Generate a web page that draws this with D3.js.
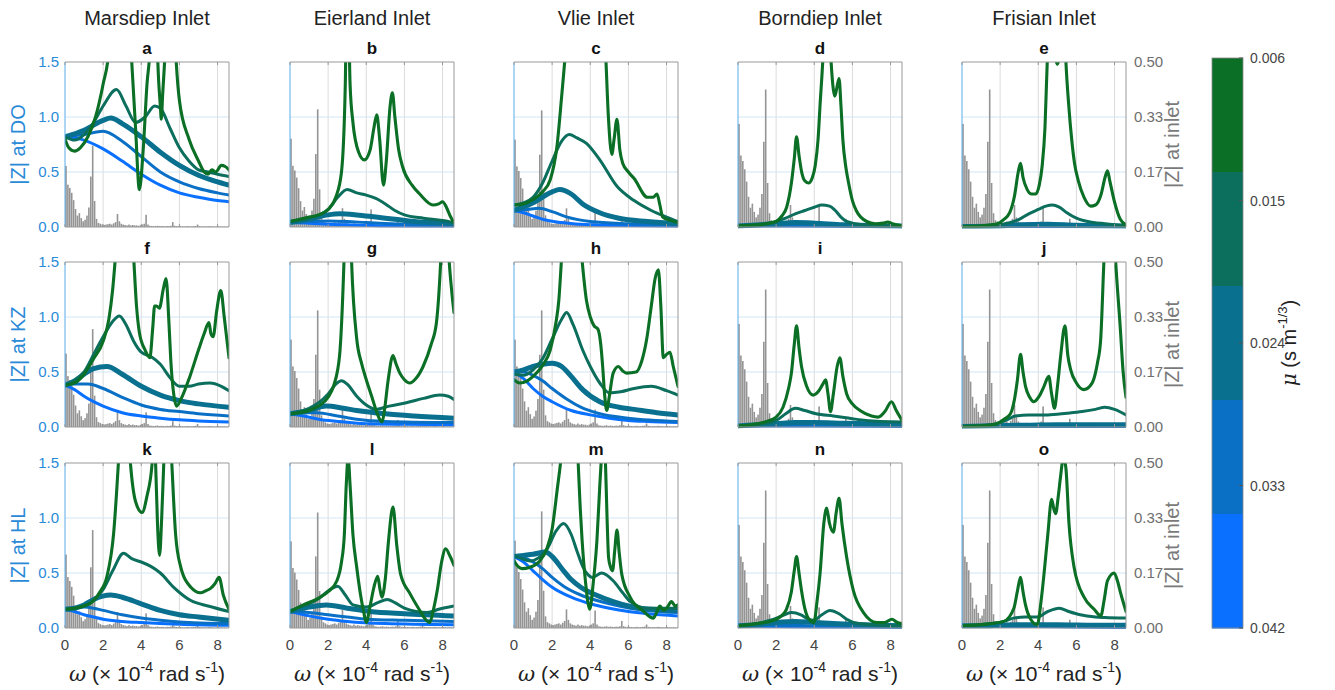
<!DOCTYPE html>
<html><head><meta charset="utf-8">
<script src="https://cdn.jsdelivr.net/npm/d3@7"></script>
<style>
html,body{margin:0;padding:0;background:#fff;}
svg{font-family:"Liberation Sans",Arial,Helvetica,sans-serif;}
</style></head>
<body><svg id="chart" width="1335" height="690"></svg>
<script>
// ---------------- DATA ----------------
const inlets = ["Marsdiep Inlet","Eierland Inlet","Vlie Inlet","Borndiep Inlet","Frisian Inlet"];
const stations = ["DO","KZ","HL"];
const panelLetters = ["a","b","c","d","e","f","g","h","i","j","k","l","m","n","o"];
const xTicks = [0,2,4,6,8];
const leftTicks = [0,0.5,1.0,1.5];
const leftTickLabels = ["0.0","0.5","1.0","1.5"];
const rightTicks = [0,0.5/3,1/3,0.5];
const rightTickLabels = ["0.00","0.17","0.33","0.50"];
const muValues = [0.006,0.015,0.024,0.033,0.042];
const muTickLabels = ["0.006","0.015","0.024","0.033","0.042"];

// tidal spectrum (normalised to M2 peak), omega step 0.1
const spectrumAmp = [0.75,0.52,0.48,0.42,0.33,0.22,0.14,0.17,0.11,0.07,
 0.09,0.14,0.24,0.62,1.0,0.32,0.1,0.05,0.04,0.03,
 0.025,0.03,0.035,0.04,0.03,0.045,0.06,0.16,0.07,0.04,
 0.03,0.025,0.02,0.03,0.02,0.025,0.02,0.02,0.015,0.02,
 0.03,0.04,0.15,0.03,0.015,0.012,0.01,0.012,0.015,0.01,
 0.012,0.01,0.008,0.012,0.01,0.015,0.06,0.015,0.01,0.008,
 0.01,0.008,0.006,0.008,0.01,0.006,0.008,0.01,0.012,0.03,
 0.01,0.008,0.006,0.008,0.006,0.01,0.008,0.006,0.005,0.006,
 0.008,0.006,0.005,0.006,0.005,0.004,0.005];
// displayed height of the M2 spectral peak in each panel (left-axis units)
const spectrumPeakRow1 = [0.74,1.07,1.06,1.25,1.25];
const spectrumPeakRow2 = [0.89,1.06,1.06,1.25,1.25];
const spectrumPeakRow3 = [0.89,1.05,1.06,1.25,1.25];

// |Z| curves [omega, value], value in left-axis display units (0-1.5), ordered mu = 0.006 ... 0.042
const panelA = [
 [[0,0.8],[0.2,0.72],[0.5,0.69],[0.8,0.72],[1.2,0.82],[1.6,1.0],[2.0,1.3],[2.3,1.6],[2.6,2.5],[3.2,2.5],[3.5,1.5],[3.7,0.9],[3.9,0.34],[4.1,0.7],[4.3,1.3],[4.45,1.6],[4.7,3],[4.85,1.6],[5.0,1.1],[5.05,0.98],[5.12,1.2],[5.25,1.6],[5.5,3],[5.8,1.6],[6.0,1.15],[6.5,0.8],[7.0,0.6],[7.3,0.5],[7.5,0.48],[7.7,0.52],[7.9,0.5],[8.2,0.56],[8.4,0.55],[8.6,0.52]],
 [[0,0.82],[0.5,0.79],[1,0.84],[1.5,0.95],[2,1.1],[2.7,1.25],[3.2,1.1],[3.7,0.95],[4.2,1.0],[4.7,1.1],[5.0,1.08],[5.5,0.9],[6,0.72],[6.5,0.6],[7,0.52],[7.5,0.5],[8,0.48],[8.6,0.46]],
 [[0,0.82],[1,0.88],[2,0.97],[2.4,0.99],[3,0.94],[4,0.82],[5,0.68],[6,0.56],[7,0.47],[8,0.41],[8.6,0.38]],
 [[0,0.82],[1,0.84],[2,0.87],[3,0.78],[4,0.64],[5,0.5],[6,0.41],[7,0.35],[8,0.31],[8.6,0.29]],
 [[0,0.82],[1,0.79],[2,0.71],[3,0.6],[4,0.48],[5,0.38],[6,0.31],[7,0.27],[8,0.24],[8.6,0.23]]
];
const panelB = [
 [[0,0.05],[1,0.09],[1.5,0.11],[2,0.16],[2.4,0.27],[2.7,0.5],[2.9,1.3],[3.0,2.5],[3.15,1.3],[3.3,0.95],[3.6,0.68],[3.9,0.61],[4.2,0.7],[4.4,0.9],[4.55,1.02],[4.7,0.8],[4.9,0.38],[5.05,0.6],[5.25,1.1],[5.37,1.22],[5.5,1.0],[5.7,0.7],[5.9,0.55],[6.4,0.38],[6.8,0.3],[7.5,0.2],[7.8,0.21],[8.0,0.23],[8.2,0.18],[8.4,0.1],[8.6,0.04]],
 [[0,0.05],[1,0.08],[2,0.16],[2.5,0.27],[3,0.34],[3.5,0.31],[4,0.29],[4.5,0.26],[5,0.21],[5.5,0.15],[6,0.11],[7,0.08],[8,0.06],[8.6,0.04]],
 [[0,0.04],[1,0.07],[2,0.11],[2.6,0.12],[3.5,0.11],[4.5,0.09],[5.5,0.07],[6.5,0.05],[7.5,0.04],[8.6,0.03]],
 [[0,0.04],[1,0.05],[2,0.055],[3,0.05],[4,0.04],[6,0.025],[8.6,0.015]],
 [[0,0.04],[1,0.035],[2,0.025],[3,0.02],[5,0.012],[8.6,0.008]]
];
const panelC = [
 [[0,0.2],[0.5,0.21],[1,0.25],[1.5,0.32],[1.9,0.43],[2.25,0.73],[2.5,1.19],[2.7,1.6],[3,2.5],[4.5,2.5],[4.8,1.6],[4.95,1.0],[5.13,0.66],[5.25,0.8],[5.4,0.98],[5.55,0.7],[5.7,0.58],[6.0,0.5],[6.3,0.44],[7.0,0.27],[7.3,0.27],[7.5,0.3],[7.65,0.2],[7.8,0.09],[8.2,0.06],[8.6,0.04]],
 [[0,0.2],[0.5,0.22],[1,0.27],[1.5,0.4],[2,0.6],[2.5,0.78],[2.9,0.84],[3.3,0.81],[3.8,0.76],[4.5,0.61],[5.4,0.37],[6.3,0.24],[7.2,0.15],[8,0.09],[8.6,0.05]],
 [[0,0.15],[1,0.22],[2,0.32],[2.4,0.34],[3,0.3],[3.6,0.21],[4.5,0.13],[5.5,0.08],[7,0.05],[8.6,0.03]],
 [[0,0.15],[0.7,0.16],[1.3,0.17],[2,0.14],[2.8,0.09],[4,0.05],[6,0.03],[8.6,0.02]],
 [[0,0.15],[0.5,0.13],[1,0.1],[1.5,0.07],[2.5,0.04],[4,0.02],[8.6,0.01]]
];
const panelD = [
 [[0,0.01],[1,0.02],[1.5,0.03],[2,0.05],[2.3,0.1],[2.55,0.18],[2.8,0.4],[2.95,0.62],[3.07,0.82],[3.2,0.65],[3.35,0.49],[3.5,0.42],[3.7,0.4],[3.9,0.45],[4.05,0.56],[4.2,0.8],[4.3,1.1],[4.47,1.6],[4.65,2.5],[4.85,1.6],[5.0,1.25],[5.08,1.19],[5.2,1.28],[5.3,1.35],[5.4,1.1],[5.5,0.79],[5.65,0.55],[5.8,0.4],[6.0,0.24],[6.2,0.15],[6.75,0.05],[7.2,0.03],[7.6,0.035],[7.85,0.045],[8.1,0.03],[8.6,0.01]],
 [[0,0.01],[1,0.02],[2,0.05],[2.5,0.08],[3,0.12],[3.5,0.15],[4,0.18],[4.4,0.2],[4.8,0.19],[5.1,0.15],[5.4,0.09],[5.7,0.05],[6.5,0.02],[8.6,0.01]],
 [[0,0.01],[2,0.03],[3,0.04],[4,0.035],[5.5,0.02],[8.6,0.01]],
 [[0,0.01],[3,0.015],[8.6,0.005]],
 [[0,0.01],[3,0.01],[8.6,0.003]]
];
const panelE = [
 [[0,0.005],[1,0.01],[1.5,0.02],[1.85,0.03],[2.2,0.07],[2.5,0.13],[2.75,0.28],[2.95,0.5],[3.07,0.58],[3.2,0.45],[3.42,0.34],[3.65,0.3],[3.86,0.3],[4.05,0.38],[4.2,0.55],[4.35,0.9],[4.47,1.5],[4.7,2.2],[4.9,1.55],[5.0,1.48],[5.1,1.55],[5.3,2.2],[5.45,1.5],[5.6,1.1],[5.75,0.8],[5.9,0.58],[6.1,0.42],[6.4,0.27],[6.75,0.19],[7.0,0.2],[7.3,0.3],[7.5,0.45],[7.63,0.51],[7.75,0.42],[7.98,0.24],[8.3,0.07],[8.6,0.02]],
 [[0,0.005],[1.5,0.01],[2.5,0.04],[3,0.07],[3.5,0.12],[4,0.16],[4.4,0.19],[4.74,0.2],[5.1,0.18],[5.5,0.13],[6,0.08],[6.9,0.04],[7.5,0.03],[8.6,0.01]],
 [[0,0.005],[2,0.01],[3,0.02],[4.5,0.025],[6,0.015],[8.6,0.01]],
 [[0,0.005],[3,0.01],[8.6,0.005]],
 [[0,0.005],[8.6,0.003]]
];
const panelF = [
 [[0,0.38],[0.5,0.4],[1,0.48],[1.5,0.62],[2,0.78],[2.3,0.98],[2.5,1.25],[2.67,1.6],[3.1,2.5],[3.58,1.6],[3.75,1.1],[3.9,0.86],[4.2,0.7],[4.45,0.63],[4.6,0.9],[4.7,1.1],[4.8,1.1],[4.95,1.08],[5.15,1.25],[5.3,1.35],[5.45,0.95],[5.55,0.6],[5.7,0.3],[5.85,0.19],[6.1,0.26],[6.55,0.46],[7.0,0.7],[7.3,0.85],[7.55,0.95],[7.65,0.85],[7.77,0.82],[7.95,1.05],[8.17,1.24],[8.35,1.0],[8.6,0.63]],
 [[0,0.38],[0.5,0.42],[1,0.5],[1.5,0.66],[2,0.82],[2.5,0.96],[2.85,1.01],[3.2,0.93],[3.6,0.78],[4.0,0.68],[4.5,0.64],[5.0,0.57],[5.5,0.45],[6.0,0.37],[6.5,0.37],[7.0,0.39],[7.6,0.4],[8.2,0.37],[8.6,0.33]],
 [[0,0.38],[0.5,0.42],[1,0.48],[1.5,0.53],[2.2,0.55],[3,0.48],[4,0.37],[5,0.29],[6,0.24],[7,0.21],[8.6,0.18]],
 [[0,0.38],[0.5,0.39],[1.2,0.39],[2,0.35],[3,0.27],[4,0.2],[5,0.16],[6,0.14],[7,0.12],[8.6,0.1]],
 [[0,0.38],[0.5,0.34],[1,0.28],[1.5,0.23],[2,0.19],[3,0.13],[4,0.1],[5,0.08],[6,0.065],[7,0.055],[8.6,0.045]]
];
const panelG = [
 [[0,0.12],[0.5,0.13],[1,0.15],[1.5,0.19],[2,0.27],[2.3,0.38],[2.6,0.65],[2.83,1.5],[3.03,2.8],[3.23,1.5],[3.5,0.8],[3.75,0.58],[4.0,0.43],[4.3,0.27],[4.5,0.16],[4.7,0.07],[4.83,0.045],[4.95,0.15],[5.15,0.43],[5.4,0.65],[5.55,0.58],[5.76,0.49],[6.0,0.43],[6.28,0.4],[6.6,0.44],[6.98,0.55],[7.4,0.75],[7.68,0.95],[7.9,1.5],[8.1,2.4],[8.35,1.5],[8.5,1.2],[8.6,1.04]],
 [[0,0.12],[0.5,0.14],[1,0.17],[1.5,0.22],[2,0.3],[2.4,0.39],[2.7,0.42],[3.0,0.39],[3.5,0.28],[4.0,0.2],[4.5,0.16],[5.2,0.19],[6.1,0.22],[7,0.26],[7.85,0.29],[8.3,0.28],[8.6,0.25]],
 [[0,0.12],[1,0.15],[1.9,0.19],[2.8,0.17],[3.5,0.15],[5,0.12],[6.5,0.1],[8.6,0.08]],
 [[0,0.12],[0.7,0.13],[1.4,0.13],[2.5,0.1],[3.5,0.07],[5,0.05],[8.6,0.04]],
 [[0,0.12],[0.7,0.1],[1.5,0.07],[2.5,0.05],[4,0.03],[6,0.025],[8.6,0.02]]
];
const panelH = [
 [[0,0.43],[0.3,0.4],[0.7,0.42],[1.0,0.46],[1.5,0.56],[1.9,0.7],[2.2,0.95],[2.35,1.15],[2.5,1.55],[3.0,2.8],[3.55,1.55],[3.8,1.15],[4.0,1.0],[4.2,0.92],[4.4,0.89],[4.55,0.75],[4.65,0.55],[4.75,0.3],[4.86,0.15],[5.0,0.28],[5.2,0.49],[5.47,0.55],[5.7,0.51],[5.9,0.49],[6.4,0.5],[6.7,0.6],[6.95,0.79],[7.2,1.1],[7.4,1.35],[7.57,1.43],[7.7,1.1],[7.83,0.63],[8.0,0.66],[8.18,0.68],[8.35,0.55],[8.6,0.37]],
 [[0,0.48],[0.5,0.47],[1,0.52],[1.5,0.62],[2,0.8],[2.5,0.98],[2.76,1.04],[3.1,0.93],[3.6,0.7],[4.0,0.55],[4.5,0.4],[5.0,0.31],[5.6,0.32],[6.3,0.35],[7.2,0.37],[8.0,0.33],[8.6,0.29]],
 [[0,0.5],[0.5,0.52],[1,0.55],[1.5,0.57],[2,0.58],[2.5,0.55],[3,0.46],[3.6,0.34],[4.5,0.23],[5.5,0.18],[6.3,0.16],[7.5,0.13],[8.6,0.11]],
 [[0,0.5],[0.5,0.5],[1,0.47],[1.5,0.42],[2,0.35],[2.8,0.25],[3.5,0.18],[4.5,0.12],[6,0.08],[8.6,0.05]],
 [[0,0.5],[0.5,0.44],[1,0.35],[1.5,0.28],[2,0.23],[3,0.15],[4,0.11],[5,0.08],[6,0.06],[7,0.05],[8.6,0.04]]
];
const panelI = [
 [[0,0.01],[1,0.03],[1.5,0.05],[2,0.09],[2.36,0.18],[2.65,0.35],[2.8,0.49],[2.95,0.75],[3.07,0.92],[3.2,0.72],[3.33,0.55],[3.6,0.37],[3.94,0.29],[4.2,0.32],[4.45,0.39],[4.59,0.43],[4.72,0.3],[4.85,0.14],[5.0,0.3],[5.2,0.55],[5.34,0.63],[5.5,0.46],[5.7,0.3],[6.0,0.21],[6.4,0.15],[7.0,0.1],[7.35,0.09],[7.7,0.14],[8.05,0.23],[8.3,0.15],[8.6,0.06]],
 [[0,0.01],[1,0.02],[2,0.06],[2.5,0.12],[3,0.17],[3.5,0.15],[4.1,0.12],[5,0.1],[6,0.075],[6.7,0.06],[8.6,0.045]],
 [[0,0.01],[1,0.02],[2,0.03],[3,0.04],[4,0.04],[5.5,0.035],[7,0.03],[8.6,0.025]],
 [[0,0.01],[2,0.015],[4,0.015],[8.6,0.01]],
 [[0,0.01],[4,0.008],[8.6,0.005]]
];
const panelJ = [
 [[0,0.005],[1,0.01],[1.84,0.03],[2.2,0.07],[2.54,0.12],[2.75,0.25],[2.9,0.42],[3.07,0.66],[3.2,0.5],[3.33,0.37],[3.55,0.27],[3.77,0.23],[4.05,0.28],[4.3,0.37],[4.55,0.46],[4.7,0.3],[4.85,0.17],[5.0,0.36],[5.17,0.64],[5.4,0.92],[5.55,0.65],[5.7,0.52],[6.0,0.4],[6.4,0.34],[6.7,0.37],[6.9,0.43],[7.1,0.58],[7.27,0.79],[7.44,1.5],[7.75,2.6],[8.06,1.5],[8.3,0.9],[8.45,0.5],[8.6,0.27]],
 [[0,0.005],[1.5,0.02],[2.3,0.06],[2.8,0.1],[3.5,0.11],[4.5,0.11],[5.5,0.125],[6.3,0.14],[7.0,0.16],[7.5,0.18],[8.0,0.16],[8.6,0.11]],
 [[0,0.005],[3,0.015],[5,0.02],[8.6,0.02]],
 [[0,0.005],[8.6,0.01]],
 [[0,0.005],[8.6,0.005]]
];
const panelK = [
 [[0,0.17],[0.5,0.18],[1,0.2],[1.3,0.22],[1.8,0.32],[2.2,0.47],[2.55,0.86],[2.8,1.5],[3.1,2.5],[3.43,1.5],[3.7,1.15],[4.04,1.05],[4.3,1.2],[4.57,1.5],[4.66,1.8],[4.75,1.5],[4.85,0.95],[4.96,0.66],[5.07,1.0],[5.18,1.5],[5.4,2.2],[5.6,1.5],[5.8,0.85],[6.06,0.56],[6.6,0.37],[7.1,0.32],[7.4,0.34],[7.63,0.36],[7.85,0.4],[8.08,0.46],[8.3,0.3],[8.6,0.17]],
 [[0,0.17],[0.5,0.18],[1,0.2],[1.5,0.25],[2,0.35],[2.5,0.52],[3.07,0.68],[3.5,0.63],[4,0.6],[4.5,0.56],[5,0.5],[5.7,0.37],[6.6,0.25],[7.5,0.2],[8.6,0.15]],
 [[0,0.17],[0.5,0.18],[1,0.21],[1.5,0.26],[2.4,0.3],[3,0.28],[4,0.22],[5,0.16],[6,0.12],[7,0.1],[8.6,0.07]],
 [[0,0.17],[0.5,0.18],[1,0.19],[1.5,0.18],[2,0.16],[3,0.12],[4,0.09],[5,0.07],[6,0.055],[8.6,0.04]],
 [[0,0.17],[0.5,0.15],[1,0.12],[1.5,0.1],[2,0.08],[3,0.06],[4,0.05],[6,0.035],[8.6,0.025]]
];
const panelL = [
 [[0,0.15],[0.7,0.21],[1.58,0.28],[2.0,0.33],[2.46,0.43],[2.7,0.6],[2.85,0.85],[2.95,1.3],[3.05,1.55],[3.15,1.3],[3.3,0.85],[3.5,0.55],[3.7,0.3],[3.86,0.15],[4.0,0.05],[4.2,0.2],[4.4,0.37],[4.6,0.47],[4.72,0.35],[4.82,0.28],[5.0,0.45],[5.17,0.8],[5.4,1.1],[5.6,0.75],[5.8,0.49],[6.3,0.31],[6.84,0.15],[7.1,0.08],[7.33,0.05],[7.5,0.15],[7.72,0.34],[7.95,0.6],[8.16,0.72],[8.4,0.65],[8.6,0.57]],
 [[0,0.15],[0.5,0.19],[1,0.22],[1.6,0.28],[2.1,0.35],[2.5,0.38],[2.9,0.3],[3.3,0.21],[4.0,0.19],[4.6,0.23],[5.1,0.26],[5.5,0.23],[6.0,0.18],[6.6,0.15],[7.2,0.14],[7.8,0.17],[8.6,0.2]],
 [[0,0.15],[1,0.19],[1.9,0.21],[3,0.18],[4.2,0.15],[6,0.13],[8.6,0.11]],
 [[0,0.15],[1,0.14],[2,0.12],[3,0.1],[4,0.08],[6,0.07],[8.6,0.06]],
 [[0,0.15],[0.5,0.13],[1,0.11],[2,0.08],[3,0.06],[5,0.04],[8.6,0.03]]
];
const panelM = [
 [[0,0.61],[0.2,0.56],[0.43,0.54],[0.8,0.55],[1.3,0.6],[1.74,0.73],[2.0,0.9],[2.26,1.25],[2.5,1.6],[2.9,2.6],[3.34,1.6],[3.47,1.1],[3.57,0.8],[3.75,0.42],[3.97,0.17],[4.15,0.4],[4.35,0.8],[4.5,1.3],[4.6,1.6],[4.69,1.9],[4.78,1.6],[4.88,1.0],[4.96,0.64],[5.07,0.55],[5.17,0.52],[5.28,0.7],[5.4,0.89],[5.52,0.68],[5.65,0.49],[6.09,0.28],[6.8,0.15],[7.3,0.09],[7.5,0.15],[7.65,0.2],[7.85,0.16],[8.0,0.18],[8.26,0.24],[8.45,0.2],[8.6,0.21]],
 [[0,0.66],[0.4,0.63],[0.87,0.61],[1.3,0.64],[1.74,0.72],[2.2,0.88],[2.6,0.95],[3.0,0.85],[3.3,0.7],[3.6,0.56],[3.9,0.48],[4.1,0.46],[4.6,0.5],[5.2,0.43],[5.7,0.32],[6.1,0.24],[7.0,0.18],[7.8,0.18],[8.6,0.18]],
 [[0,0.65],[0.5,0.66],[1,0.67],[1.65,0.69],[2.0,0.65],[2.6,0.52],[3.0,0.44],[3.5,0.37],[4.3,0.3],[5.2,0.24],[6.0,0.2],[6.6,0.18],[8.6,0.16]],
 [[0,0.65],[0.5,0.64],[1,0.6],[1.5,0.54],[2,0.46],[2.6,0.38],[3.5,0.3],[4.35,0.25],[5,0.22],[6.1,0.18],[7,0.16],[8.6,0.14]],
 [[0,0.65],[0.5,0.6],[1,0.52],[1.5,0.44],[2,0.37],[3,0.28],[4,0.22],[5,0.18],[6,0.15],[7,0.13],[8.6,0.11]]
];
const panelN = [
 [[0,0.02],[1,0.04],[1.67,0.06],[2.2,0.1],[2.54,0.17],[2.8,0.33],[2.95,0.52],[3.07,0.65],[3.2,0.5],[3.33,0.34],[3.5,0.18],[3.68,0.09],[3.98,0.05],[4.15,0.25],[4.3,0.49],[4.5,0.95],[4.65,1.09],[4.8,0.95],[5.0,0.87],[5.15,1.05],[5.3,1.18],[5.45,0.95],[5.7,0.64],[6.05,0.34],[6.58,0.14],[7.28,0.05],[7.7,0.05],[8.07,0.08],[8.35,0.05],[8.6,0.04]],
 [[0,0.02],[1,0.04],[1.7,0.07],[2.3,0.11],[2.8,0.14],[3.3,0.12],[3.7,0.08],[3.95,0.07],[4.4,0.12],[4.82,0.16],[5.3,0.13],[5.7,0.08],[6.05,0.05],[7,0.03],[8.6,0.02]],
 [[0,0.02],[1,0.03],[2,0.05],[3,0.06],[4,0.05],[5,0.04],[6.5,0.03],[8.6,0.02]],
 [[0,0.02],[2,0.025],[4,0.02],[8.6,0.01]],
 [[0,0.02],[3,0.012],[8.6,0.006]]
];
const panelO = [
 [[0,0.02],[1.5,0.04],[2.19,0.06],[2.72,0.18],[2.9,0.33],[3.07,0.46],[3.2,0.33],[3.33,0.21],[3.6,0.08],[3.95,0.03],[4.15,0.25],[4.3,0.49],[4.5,0.85],[4.7,1.17],[4.82,1.08],[4.91,1.04],[5.05,1.2],[5.17,1.38],[5.32,1.55],[5.45,1.45],[5.61,0.95],[5.88,0.55],[6.4,0.28],[6.93,0.17],[7.28,0.11],[7.45,0.25],[7.63,0.43],[7.98,0.5],[8.15,0.43],[8.33,0.31],[8.6,0.15]],
 [[0,0.02],[1.5,0.04],[2.2,0.06],[2.7,0.09],[3.3,0.1],[3.95,0.1],[4.5,0.15],[5.1,0.18],[5.6,0.15],[6.2,0.12],[7.0,0.1],[7.5,0.095],[8.6,0.09]],
 [[0,0.02],[1,0.02],[2,0.025],[3,0.03],[5,0.03],[7,0.025],[8.6,0.025]],
 [[0,0.02],[3,0.015],[8.6,0.01]],
 [[0,0.02],[8.6,0.005]]
];

// ---------------- LAYOUT / STYLE ----------------
const panels = [panelA,panelB,panelC,panelD,panelE,panelF,panelG,panelH,panelI,panelJ,panelK,panelL,panelM,panelN,panelO];
const spectrumPeaks = [spectrumPeakRow1,spectrumPeakRow2,spectrumPeakRow3];
const colX = [65,290,514,738,962];
const rowY = [62,262,463];
const PW = 164, PH = 165;
const muColors = ["#0b7026","#0c6e5c","#0a708f","#0a70c6","#0a70ff"];
const muWidths = [3.1,3.0,5.0,3.0,3.0];
const blue = "#2a8ad8", grayTxt = "#6e6e6e";

const svg = d3.select("#chart");
const x = d3.scaleLinear().domain([0,8.6]).range([0,PW]);
const y = d3.scaleLinear().domain([0,1.5]).range([PH,0]);
const yR = d3.scaleLinear().domain([0,0.5]).range([PH,0]);
const line = d3.line().x(d=>x(d[0])).y(d=>y(d[1])).curve(d3.curveMonotoneX);

svg.append("defs").append("clipPath").attr("id","pclip")
  .append("rect").attr("x",0).attr("y",0).attr("width",PW).attr("height",PH+1.5);

// column titles
inlets.forEach((t,c)=>{
  svg.append("text").attr("x",colX[c]+PW/2).attr("y",25).attr("text-anchor","middle")
    .attr("font-size",20).attr("fill","#222").text(t);
});

panels.forEach((series,i)=>{
  const r = Math.floor(i/5), c = i%5;
  const g = svg.append("g").attr("transform",`translate(${colX[c]},${rowY[r]})`);
  g.append("text").attr("x",PW/2).attr("y",-8).attr("text-anchor","middle")
    .attr("font-size",17).attr("font-weight","bold").attr("fill","#111").text(panelLetters[i]);
  g.selectAll(".vg").data([2,4,6,8]).join("line")
    .attr("x1",d=>x(d)).attr("x2",d=>x(d)).attr("y1",0).attr("y2",PH)
    .attr("stroke","#dcdcdc").attr("stroke-width",1);
  g.selectAll(".hg").data([0.5,1.0]).join("line")
    .attr("x1",0).attr("x2",PW).attr("y1",d=>y(d)).attr("y2",d=>y(d))
    .attr("stroke","#d3e6f5").attr("stroke-width",1);
  const plot = g.append("g").attr("clip-path","url(#pclip)");
  const peak = spectrumPeaks[r][c];
  plot.selectAll(".bar").data(spectrumAmp).join("rect")
    .attr("x",(d,k)=>x(k*0.1)+0.2).attr("width",1.6)
    .attr("y",d=>y(d*peak)).attr("height",d=>PH-y(d*peak))
    .attr("fill","#949494");
  for(let k=4;k>=0;k--){
    plot.append("path").attr("d",line(series[k])).attr("fill","none")
      .attr("stroke",muColors[k]).attr("stroke-width",muWidths[k])
      .attr("stroke-linejoin","round").attr("stroke-linecap","round");
  }
  g.append("line").attr("x1",0).attr("x2",PW).attr("y1",0).attr("y2",0).attr("stroke","#999");
  g.append("line").attr("x1",PW).attr("x2",PW).attr("y1",0).attr("y2",PH).attr("stroke","#999");
  g.append("line").attr("x1",0).attr("x2",PW).attr("y1",PH).attr("y2",PH).attr("stroke","#999");
  g.append("line").attr("x1",0).attr("x2",0).attr("y1",0).attr("y2",PH).attr("stroke","#5aaae8");
  g.selectAll(".tt").data(xTicks).join("line")
    .attr("x1",d=>x(d)).attr("x2",d=>x(d)).attr("y1",0).attr("y2",3).attr("stroke","#999");
  g.selectAll(".bt").data(xTicks).join("line")
    .attr("x1",d=>x(d)).attr("x2",d=>x(d)).attr("y1",PH).attr("y2",PH-3).attr("stroke","#999");

  if(c===0){
    g.selectAll(".lt").data(leftTicks).join("text")
      .attr("x",-6).attr("y",d=>y(d)+5).attr("text-anchor","end")
      .attr("font-size",15).attr("fill",blue).text((d,k)=>leftTickLabels[k]);
    g.append("text").attr("transform",`translate(-40,${PH/2}) rotate(-90)`)
      .attr("text-anchor","middle").attr("font-size",20).attr("fill",blue)
      .text("|Z| at "+stations[r]);
  }
  if(c===4){
    g.selectAll(".rt").data(rightTicks).join("text")
      .attr("x",PW+8).attr("y",d=>yR(d)+5).attr("text-anchor","start")
      .attr("font-size",15).attr("fill",grayTxt).text((d,k)=>rightTickLabels[k]);
    g.append("text").attr("transform",`translate(${PW+53},${PH/2}) rotate(-90)`)
      .attr("text-anchor","middle").attr("font-size",20).attr("fill","#7a7a7a")
      .text("|Z| at inlet");
  }
  if(r===2){
    g.selectAll(".xt").data(xTicks).join("text")
      .attr("x",d=>x(d)).attr("y",PH+22).attr("text-anchor","middle")
      .attr("font-size",15).attr("fill","#444").text(d=>d);
    const xl = g.append("text").attr("x",PW/2).attr("y",PH+53).attr("text-anchor","middle")
      .attr("font-size",21).attr("fill","#222");
    xl.append("tspan").attr("font-style","italic").attr("font-family","DejaVu Serif, serif").text("ω");
    xl.append("tspan").text(" (× 10");
    xl.append("tspan").attr("font-size",14).attr("dy",-9).text("-4");
    xl.append("tspan").attr("dy",9).text(" rad s");
    xl.append("tspan").attr("font-size",14).attr("dy",-9).text("-1");
    xl.append("tspan").attr("dy",9).text(")");
  }
});

// colorbar
const cbX = 1212, cbW = 31, cbTop = 58, cbBot = 628;
const cbScale = d3.scaleLinear().domain([0.006,0.042]).range([cbTop,cbBot]);
const segH = (cbBot-cbTop)/muValues.length;
svg.selectAll(".cbseg").data(muValues).join("rect")
  .attr("x",cbX).attr("width",cbW).attr("y",(d,k)=>cbTop+k*segH).attr("height",segH+0.5)
  .attr("fill",(d,k)=>muColors[k]);
svg.append("rect").attr("x",cbX).attr("y",cbTop).attr("width",cbW).attr("height",cbBot-cbTop)
  .attr("fill","none").attr("stroke","#888").attr("stroke-width",0.8);
svg.selectAll(".cbt").data(muValues).join("line")
  .attr("x1",cbX+cbW-4).attr("x2",cbX+cbW).attr("y1",d=>cbScale(d)).attr("y2",d=>cbScale(d))
  .attr("stroke","#555");
svg.selectAll(".cbl").data(muValues).join("text")
  .attr("x",cbX+cbW+7).attr("y",d=>cbScale(d)+5).attr("font-size",14).attr("fill","#444")
  .text((d,k)=>muTickLabels[k]);
const cbl = svg.append("text").attr("transform",`translate(1296,${(cbTop+cbBot)/2}) rotate(-90)`)
  .attr("text-anchor","middle").attr("font-size",20).attr("fill","#222");
cbl.append("tspan").attr("font-style","italic").attr("font-family","DejaVu Serif, serif").text("μ");
cbl.append("tspan").text(" (s m");
cbl.append("tspan").attr("font-size",13).attr("dy",-9).text("-1/3");
cbl.append("tspan").attr("dy",9).text(")");
</script></body></html>
